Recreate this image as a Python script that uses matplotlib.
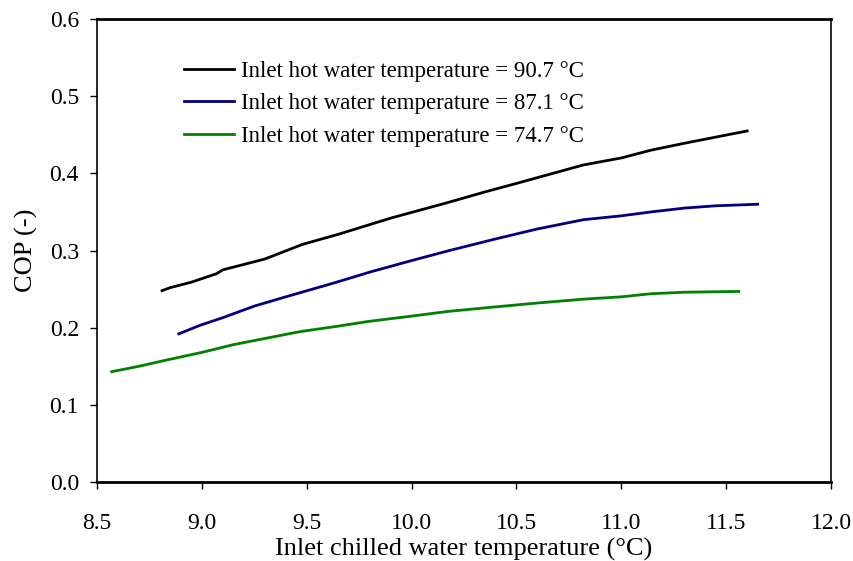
import matplotlib.pyplot as plt

plt.rcParams['font.family'] = ['Liberation Serif', 'DejaVu Serif']

# Inlet chilled water temperature (°C) and COP (-)
x_907 = [8.81, 8.85, 8.95, 9.07, 9.10, 9.20, 9.30, 9.48, 9.65, 9.90, 10.17, 10.35, 10.50, 10.82, 11.00, 11.14, 11.30, 11.45, 11.60]
cop_907 = [0.248, 0.252, 0.259, 0.270, 0.275, 0.282, 0.289, 0.308, 0.321, 0.342, 0.362, 0.376, 0.387, 0.411, 0.420, 0.430, 0.439, 0.447, 0.455]

x_871 = [8.89, 8.99, 9.10, 9.25, 9.40, 9.63, 9.80, 10.00, 10.18, 10.40, 10.60, 10.82, 11.00, 11.14, 11.30, 11.45, 11.65]
cop_871 = [0.192, 0.203, 0.213, 0.228, 0.240, 0.258, 0.272, 0.287, 0.300, 0.315, 0.328, 0.340, 0.345, 0.350, 0.355, 0.358, 0.360]

x_747 = [8.57, 8.70, 8.83, 9.00, 9.15, 9.30, 9.47, 9.65, 9.79, 10.00, 10.17, 10.40, 10.60, 10.82, 11.00, 11.14, 11.30, 11.56]
cop_747 = [0.143, 0.150, 0.158, 0.168, 0.178, 0.186, 0.195, 0.202, 0.208, 0.215, 0.221, 0.227, 0.232, 0.237, 0.240, 0.244, 0.246, 0.247]

labels = ['Inlet hot water temperature = 90.7 \u00b0C',
          'Inlet hot water temperature = 87.1 \u00b0C',
          'Inlet hot water temperature = 74.7 \u00b0C']
colors = ['black', '#000080', '#008000']

fig = plt.figure(figsize=(8.54, 5.61), dpi=100)
ax = fig.add_axes([0.1136, 0.1408, 0.8595, 0.8252])

for xs, ys, lab, col in zip([x_907, x_871, x_747], [cop_907, cop_871, cop_747], labels, colors):
    ax.plot(xs, ys, color=col, linewidth=2.0, label=lab)

ax.set_xlim(8.5, 12.0)
ax.set_ylim(0, 0.6)
ax.set_xticks([8.5, 9.0, 9.5, 10.0, 10.5, 11.0, 11.5, 12.0])
ax.set_xticklabels(['8.5', '9.0', '9.5', '10.0', '10.5', '11.0', '11.5', '12.0'])
ax.set_yticks([0.0, 0.1, 0.2, 0.3, 0.4, 0.5, 0.6])
ax.set_yticklabels(['0.0', '0.1', '0.2', '0.3', '0.4', '0.5', '0.6'])
ax.tick_params(direction='out', length=5, width=1, labelsize=17, pad=8)
ax.tick_params(axis='x', pad=17)

for s in ax.spines.values():
    s.set_linewidth(1.2)
ax.spines['bottom'].set_linewidth(2.0)
ax.spines['top'].set_linewidth(2.0)

ax.set_xlabel('Inlet chilled water temperature (\u00b0C)', fontsize=19, labelpad=3)
ax.set_ylabel('COP (-)', fontsize=19, labelpad=8)

ax.legend(loc='upper left', bbox_to_anchor=(0.09, 0.955), frameon=False, fontsize=16.5,
          handlelength=2.2, handletextpad=0.3, labelspacing=0.5)

fig.savefig('out.png', dpi=100)
